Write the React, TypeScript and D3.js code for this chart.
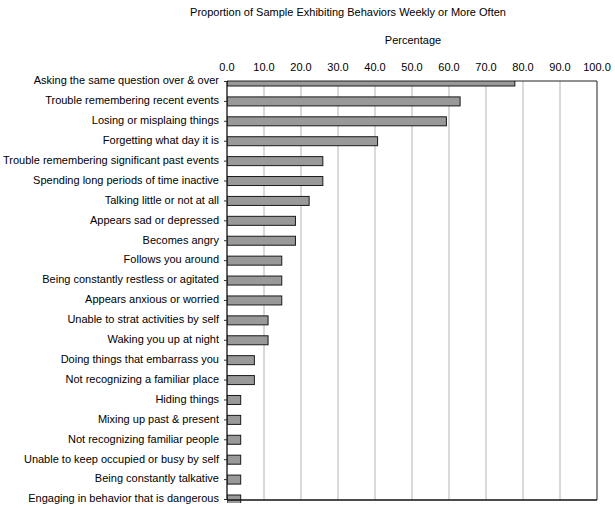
import React from "react";
import * as d3 from "d3";

const categories = [
  "Asking the same question over & over",
  "Trouble remembering recent events",
  "Losing or misplaing things",
  "Forgetting what day it is",
  "Trouble remembering significant past events",
  "Spending long periods of time inactive",
  "Talking little or not at all",
  "Appears sad or depressed",
  "Becomes angry",
  "Follows you around",
  "Being constantly restless or agitated",
  "Appears anxious or worried",
  "Unable to strat activities by self",
  "Waking you up at night",
  "Doing things that embarrass you",
  "Not recognizing a familiar place",
  "Hiding things",
  "Mixing up past & present",
  "Not recognizing familiar people",
  "Unable to keep occupied or busy by self",
  "Being constantly talkative",
  "Engaging in behavior that is dangerous",
];

const values = [
  77.8, 63.0, 59.3, 40.7, 25.9, 25.9, 22.2, 18.5, 18.5, 14.8, 14.8, 14.8, 11.1, 11.1,
  7.4, 7.4, 3.7, 3.7, 3.7, 3.7, 3.7, 3.7,
];

const xTicks = [0, 10, 20, 30, 40, 50, 60, 70, 80, 90, 100];

const title = "Proportion of Sample Exhibiting Behaviors Weekly or More Often";
const axisTitle = "Percentage";

export default function App() {
  const W = 615;
  const H = 510;
  const left = 227;
  const right = 597;
  const top = 81;
  const bottom = 500;
  const font = "'Liberation Sans', Arial, sans-serif";

  const x = d3.scaleLinear().domain([0, 100]).range([left, right]);
  const y = d3.scalePoint<string>().domain(categories).range([top + 0.5, bottom - 0.5]).padding(0);
  const barH = 9;

  return (
    <svg
      width={W}
      height={H}
      style={{ position: "absolute", left: 0, top: 0, background: "#fff" }}
      fontFamily={font}
    >
      <defs>
        <clipPath id="plotclip">
          <rect x={left} y={top} width={right - left + 1} height={bottom - top + 3} />
        </clipPath>
      </defs>
      <rect x={0} y={0} width={W} height={H} fill="#fff" />
      <text x={348} y={16} fontSize={11} textAnchor="middle" fill="#000">
        {title}
      </text>
      <text x={413} y={44} fontSize={11} textAnchor="middle" fill="#000">
        {axisTitle}
      </text>
      {xTicks.map((t) => (
        <text key={t} x={x(t)} y={71} fontSize={11} textAnchor="middle" fill="#000">
          {t.toFixed(1)}
        </text>
      ))}
      {xTicks
        .filter((t) => t > 0 && t < 100)
        .map((t) => (
          <line key={t} x1={x(t)} x2={x(t)} y1={top} y2={bottom} stroke="#b4b4b4" strokeWidth={1} />
        ))}
      <g clipPath="url(#plotclip)">
        {categories.map((c, i) => (
          <rect
            key={c}
            x={x(0)}
            y={(y(c) as number) - barH / 2}
            width={x(values[i]) - x(0)}
            height={barH}
            fill="#999999"
            stroke="#1a1a1a"
            strokeWidth={1}
          />
        ))}
      </g>
      <line x1={left} x2={right} y1={top} y2={top} stroke="#222" strokeWidth={1} />
      <line x1={right} x2={right} y1={top} y2={bottom} stroke="#222" strokeWidth={1} />
      <line x1={left} x2={right} y1={bottom} y2={bottom} stroke="#111" strokeWidth={1.3} />
      <line x1={left} x2={left} y1={top} y2={bottom} stroke="#111" strokeWidth={1.3} />
      {categories.map((c) => (
        <g key={c}>
          <line x1={left - 3} x2={left} y1={y(c)} y2={y(c)} stroke="#333" strokeWidth={1} />
          <text
            x={left - 8}
            y={(y(c) as number) - 1}
            dy="0.35em"
            fontSize={11}
            textAnchor="end"
            fill="#000"
          >
            {c}
          </text>
        </g>
      ))}
    </svg>
  );
}
